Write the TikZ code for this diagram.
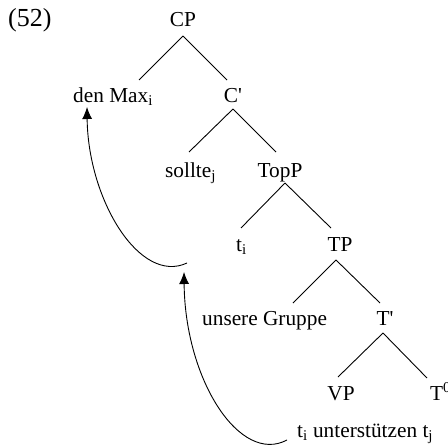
\documentclass[tikz,border=0pt]{standalone}
\usepackage{fontspec}
\setmainfont{Liberation Serif}
\usetikzlibrary{arrows.meta}
\begin{document}
\begin{tikzpicture}[x=1pt,y=-1pt,
  lab/.style={inner sep=0pt,font=\fontsize{21.3}{25}\selectfont},
  branch/.style={line width=0.9pt},
  move/.style={line width=0.9pt,-{Latex[length=12pt,width=10pt]}}]
\useasboundingbox (0,0) rectangle (448,447);
% labels
\node[lab,anchor=base west,font=\fontsize{26}{30}\selectfont] (ex) at (8,27) {(52)};
\node[lab,anchor=base] (CP) at (183,27) {CP};
\node[lab,anchor=base west] (Max) at (73,102) {den Max\textsubscript{i}};
\node[lab,anchor=base] (Cbar) at (233,102) {C\textquotesingle};
\node[lab,anchor=base west] (sollte) at (165,177) {sollte\textsubscript{j}};
\node[lab,anchor=base] (TopP) at (280,177) {TopP};
\node[lab,anchor=base west] (ti) at (236,251) {t\textsubscript{i}};
\node[lab,anchor=base] (TP) at (340,251) {TP};
\node[lab,anchor=base west] (Gruppe) at (202,325) {unsere Gruppe};
\node[lab,anchor=base] (Tbar) at (385,325) {T\textquotesingle};
\node[lab,anchor=base] (VP) at (341,400) {VP};
\node[lab,anchor=base west] (T0) at (430,400) {T\textsuperscript{0}};
\node[lab,anchor=base west] (VPc) at (297,437) {t\textsubscript{i} unterst\"utzen t\textsubscript{j}};
% branch points
\coordinate (CPb) at (183,36);
\coordinate (Maxt) at (139,80);
\coordinate (Cbart) at (227,80);
\coordinate (Cbarb) at (233,109);
\coordinate (sollt) at (189,152);
\coordinate (TopPt) at (276,152);
\coordinate (TopPb) at (285,183);
\coordinate (tit) at (241,228);
\coordinate (TPt) at (331,228);
\coordinate (TPb) at (336,260);
\coordinate (Grt) at (293,303);
\coordinate (Tbart) at (380,303);
\coordinate (Tbarb) at (383,333);
\coordinate (VPt) at (338,377);
\coordinate (T0t) at (427,378);
% branches
\draw[branch] (CPb) -- (Maxt);
\draw[branch] (CPb) -- (Cbart);
\draw[branch] (Cbarb) -- (sollt);
\draw[branch] (Cbarb) -- (TopPt);
\draw[branch] (TopPb) -- (tit);
\draw[branch] (TopPb) -- (TPt);
\draw[branch] (TPb) -- (Grt);
\draw[branch] (TPb) -- (Tbart);
\draw[branch] (Tbarb) -- (VPt);
\draw[branch] (Tbarb) -- (T0t);
% movement arrows
\coordinate (m1s) at (187,263);
\coordinate (m1e) at (87,107);
\coordinate (m2s) at (287,440);
\coordinate (m2e) at (184,272);
\draw[move] (m1s) .. controls (140,285) and (88,200) .. (m1e);
\draw[move] (m2s) .. controls (240,465) and (185,380) .. (m2e);
\end{tikzpicture}
\end{document}
